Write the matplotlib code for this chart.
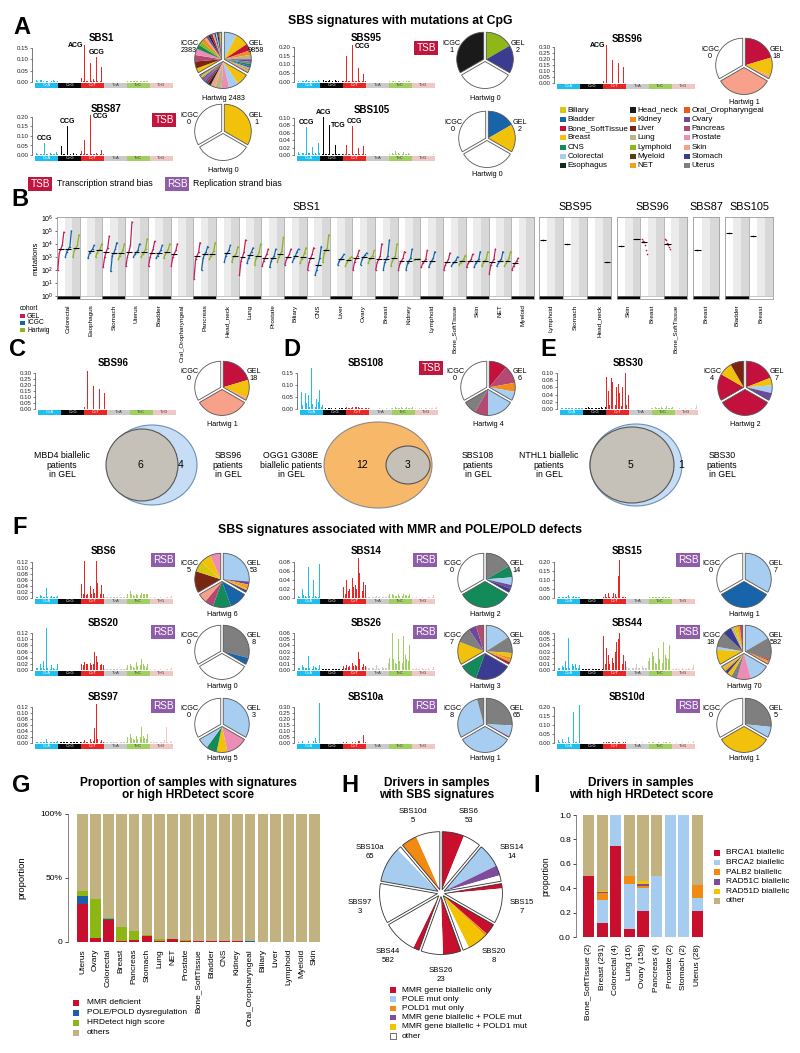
import numpy as np
import matplotlib
matplotlib.use('Agg')
import matplotlib.pyplot as plt
from matplotlib.patches import Rectangle, Ellipse, Wedge

plt.rcParams['font.family'] = ['Liberation Sans', 'DejaVu Sans']
plt.rcParams['mathtext.fontset'] = 'custom'
plt.rcParams['mathtext.rm'] = 'Liberation Sans'
plt.rcParams['mathtext.it'] = 'Liberation Sans:italic'
plt.rcParams['mathtext.bf'] = 'Liberation Sans:bold'
plt.rcParams['axes.linewidth'] = 0.5

# ---------------------------------------------------------------- data
MUT_TYPES = ['C>A', 'C>G', 'C>T', 'T>A', 'T>C', 'T>G']
MUT_COLORS = ['#1EBFF0', '#050708', '#E62725', '#CBCACB', '#A1CF64', '#EDC8C5']

TISSUE_COLORS = {
    'Biliary': '#D6C80E', 'Bladder': '#1764AB', 'Bone_SoftTissue': '#C4103D',
    'Breast': '#F2C10B', 'CNS': '#138A5A', 'Colorectal': '#A7CDF1',
    'Esophagus': '#0E2E1B', 'Head_neck': '#1A1A1A', 'Kidney': '#F28C1C',
    'Liver': '#7A2511', 'Lung': '#C1B388', 'Lymphoid': '#8DB817',
    'Myeloid': '#5C3D14', 'NET': '#F6A01A', 'Oral_Oropharyngeal': '#E85B1C',
    'Ovary': '#6B4A9E', 'Pancreas': '#B44A73', 'Prostate': '#EC8DB6',
    'Skin': '#F7A08A', 'Stomach': '#3B3B91', 'Uterus': '#7F7F7F'}
LEGEND_COLS = [['Biliary', 'Bladder', 'Bone_SoftTissue', 'Breast', 'CNS', 'Colorectal', 'Esophagus'],
               ['Head_neck', 'Kidney', 'Liver', 'Lung', 'Lymphoid', 'Myeloid', 'NET'],
               ['Oral_Oropharyngeal', 'Ovary', 'Pancreas', 'Prostate', 'Skin', 'Stomach', 'Uterus']]

# signature profiles, x1000, rows = C>A, C>G, C>T, T>A, T>C, T>G (16 contexts each)
SIGS = {
 'SBS1': [[9,6,3,7,8,5,2,6,6,4,2,5,7,5,2,6],[2,1,1,2,2,1,1,1,1,1,1,1,2,1,1,1],
          [18,3,165,4,6,3,86,3,15,4,111,3,5,3,65,2],[2,1,1,2,1,1,1,1,1,1,1,1,1,1,1,2],
          [5,3,6,4,4,3,6,5,3,3,4,4,4,3,5,4],[1,1,1,1,1,1,1,1,1,1,1,1,1,1,1,2]],
 'SBS95': [[4,2,6,3,5,3,12,4,3,2,8,3,4,3,10,3],[3,2,12,3,4,3,14,4,3,2,10,3,3,2,12,3],
           [5,3,150,3,5,3,210,4,6,3,80,3,5,3,45,3],[2,1,2,1,2,1,1,1,1,1,1,1,2,1,1,1],
           [3,3,5,3,3,2,4,3,2,2,3,2,3,3,4,3],[1,1,1,1,1,1,2,1,1,1,1,1,1,1,1,2]],
 'SBS96': [[1,1,1,1,1,1,1,1,1,1,1,1,1,1,1,1],[1,1,1,1,1,1,1,1,1,1,1,1,1,1,1,1],
           [20,3,320,3,2,2,190,2,3,2,170,2,3,2,130,2],[1,1,1,1,1,1,1,1,1,1,1,1,1,1,1,1],
           [1,1,2,1,1,1,2,1,1,1,2,1,1,1,2,1],[1,1,1,1,1,1,1,1,1,1,1,1,1,1,1,1]],
 'SBS87': [[8,3,10,4,6,3,65,5,4,3,12,3,5,3,15,4],[3,2,45,3,3,2,155,3,3,2,10,2,3,2,22,3],
           [20,3,80,3,5,3,210,4,5,3,8,3,4,3,25,3],[2,1,1,1,1,1,1,1,1,1,1,1,1,1,1,1],
           [1,1,1,1,1,1,1,1,1,1,1,1,1,1,1,1],[1,1,1,1,1,1,1,1,1,1,1,1,1,1,1,1]],
 'SBS105': [[8,4,35,5,6,4,77,5,5,3,22,4,6,4,32,5],[4,3,103,4,4,3,80,4,3,2,27,3,4,3,68,4],
            [4,3,28,3,4,3,78,3,3,2,18,3,3,2,25,3],[1,1,1,1,1,1,1,1,1,1,1,1,1,1,1,1],
            [3,4,6,3,10,4,5,3,2,3,8,4,3,5,4,3],[1,1,1,1,1,1,1,1,1,1,1,1,1,1,1,2]],
 'SBS108': [[70,15,10,65,25,60,10,170,20,70,10,40,30,80,10,15],[5,3,2,5,4,3,2,4,3,2,2,3,4,3,2,3],
            [8,5,6,4,10,6,8,7,9,5,6,4,7,5,6,5],[3,2,2,3,2,2,2,3,2,2,2,2,3,2,2,3],
            [6,5,8,5,5,4,7,5,4,4,9,5,6,5,8,5],[3,2,2,4,3,2,2,5,3,2,3,4,3,3,4,10]],
 'SBS30': [[4,3,2,4,3,3,2,3,3,2,2,3,4,3,2,4],[4,3,2,5,3,3,2,4,3,3,2,4,5,3,2,6],
           [90,50,12,85,75,40,10,60,70,45,8,60,100,100,10,40],[2,1,1,1,1,1,1,1,1,1,1,1,1,1,1,2],
           [4,3,5,4,3,3,6,3,3,3,8,4,4,3,5,3],[1,1,1,2,1,1,1,2,1,1,1,2,1,1,2,10]],
 'SBS6': [[4,3,2,10,6,3,2,33,3,2,2,8,5,3,2,8],[1,1,1,1,1,1,1,1,1,1,1,1,1,1,1,1],
          [47,12,125,10,15,8,40,12,30,18,125,50,25,12,45,15],[3,2,2,6,2,2,2,3,2,2,2,3,3,2,2,4],
          [15,12,22,14,10,8,15,10,12,10,18,12,14,12,15,30],[2,1,1,3,1,1,1,2,1,1,1,2,2,1,2,8]],
 'SBS14': [[5,3,2,20,6,4,3,70,5,3,2,40,5,3,2,76],[1,1,1,1,1,1,1,1,1,1,1,1,1,1,1,1],
           [25,10,40,15,20,10,45,25,30,20,90,55,25,15,35,28],[3,2,2,5,2,2,2,4,2,2,2,3,3,2,2,5],
           [8,5,10,6,5,4,8,5,5,4,10,6,6,5,8,12],[2,1,1,3,1,1,1,2,1,1,1,2,2,1,2,6]],
 'SBS15': [[5,3,4,8,6,4,6,15,5,3,5,10,5,3,4,8],[1,1,1,1,1,1,1,1,1,1,1,1,1,1,1,1],
           [8,20,5,30,6,4,5,30,20,6,120,210,50,5,8,5],[2,1,1,2,1,1,1,2,1,1,1,1,1,1,1,2],
           [5,4,6,4,4,3,6,4,4,3,5,4,5,4,5,6],[1,1,1,1,1,1,1,1,1,1,1,1,1,1,1,1]],
 'SBS20': [[8,6,3,20,8,28,3,135,5,4,2,15,6,4,3,18],[1,1,1,1,1,1,1,1,1,1,1,1,1,1,1,1],
           [20,15,25,18,20,12,22,15,20,57,45,25,18,15,20,15],[3,2,2,10,2,2,2,4,2,2,2,3,3,2,2,5],
           [15,10,20,12,10,8,25,12,10,15,37,20,12,10,18,12],[2,1,1,3,1,1,1,2,1,1,1,2,2,1,2,6]],
 'SBS26': [[4,3,2,8,5,4,3,22,4,3,2,6,5,3,2,8],[2,1,1,2,1,1,1,2,1,1,1,2,1,1,1,2],
           [6,4,8,5,6,4,12,6,8,6,30,18,7,5,10,6],[5,3,3,17,3,3,2,8,3,2,2,5,4,3,3,12],
           [20,15,60,18,12,10,50,15,15,12,55,25,18,15,40,30],[2,1,1,3,1,1,1,3,1,1,1,3,2,1,2,5]],
 'SBS44': [[4,3,3,6,5,15,4,52,4,3,10,6,10,3,3,8],[1,1,1,2,1,1,1,2,1,1,1,1,2,1,1,2],
           [55,10,35,25,10,8,20,12,30,45,50,60,12,10,25,15],[5,3,3,25,3,3,3,10,3,3,3,6,4,3,3,15],
           [20,15,30,22,12,10,35,18,15,12,45,25,20,18,40,30],[2,1,1,4,1,1,2,4,1,1,2,4,2,1,3,8]],
 'SBS97': [[4,3,2,5,3,2,2,13,3,2,2,5,3,2,2,6],[3,2,2,4,2,2,2,3,2,2,2,3,3,2,2,4],
           [5,3,10,4,5,3,12,5,6,50,130,15,5,3,10,5],[3,2,2,5,2,2,2,4,2,2,2,3,3,2,2,4],
           [20,15,30,18,12,10,25,15,85,20,55,25,18,15,30,20],[3,2,2,5,2,2,3,5,3,2,10,55,3,2,4,8]],
 'SBS10a': [[5,3,2,15,4,3,2,20,3,2,2,15,45,5,3,330],[1,1,1,1,1,1,1,1,1,1,1,1,1,1,1,1],
            [5,3,8,4,4,3,8,4,5,4,20,15,5,4,65,5],[2,1,1,4,1,1,1,3,1,1,1,2,2,1,1,4],
            [2,1,2,2,1,1,2,1,1,1,2,2,2,1,2,3],[1,1,1,2,1,1,1,2,1,1,1,2,1,1,1,3]],
 'SBS10d': [[15,5,3,20,5,3,2,35,4,3,2,170,5,3,2,210],[1,1,1,1,1,1,1,1,1,1,1,1,1,1,1,1],
            [3,2,3,3,3,2,4,3,3,2,6,4,3,2,5,3],[2,1,1,4,1,1,1,3,1,1,1,3,2,1,1,8],
            [3,2,3,3,2,2,3,2,2,2,3,3,3,2,3,4],[2,1,1,3,1,1,1,3,1,1,1,3,2,1,2,12]],
}

# pies: cohort -> list of (tissue, number of samples)
PIES = {
 'SBS1': {'ICGC': [('Breast',200),('Liver',300),('Pancreas',280),('Prostate',270),('CNS',190),('Lymphoid',180),
                   ('Kidney',170),('Skin',100),('Ovary',105),('Esophagus',95),('Bone_SoftTissue',90),('Lung',80),
                   ('Stomach',65),('Colorectal',55),('Head_neck',55),('Myeloid',40),('Uterus',40),('Biliary',30),
                   ('Bladder',23),('NET',15)],
          'GEL': [('Colorectal',2200),('Breast',2400),('Bone_SoftTissue',1200),('Kidney',800),('Lung',800),
                  ('Ovary',450),('Uterus',400),('CNS',380),('Bladder',300),('Prostate',250),('Lymphoid',250),
                  ('Skin',180),('Oral_Oropharyngeal',80),('NET',60),('Pancreas',40),('Stomach',30),('Biliary',20),
                  ('Myeloid',18)],
          'Hartwig': [('Breast',540),('Colorectal',430),('Prostate',330),('Lung',290),('Skin',220),('Esophagus',130),
                      ('Bone_SoftTissue',100),('Bladder',90),('Pancreas',85),('Ovary',85),('Uterus',45),('Biliary',40),
                      ('NET',30),('CNS',25),('Kidney',20),('Stomach',10),('Head_neck',8),('Liver',5)]},
 'SBS95': {'ICGC': [('Head_neck',1)], 'GEL': [('Lymphoid',1),('Stomach',1)], 'Hartwig': []},
 'SBS96': {'ICGC': [], 'GEL': [('Bone_SoftTissue',11),('Breast',6),('Skin',1)], 'Hartwig': [('Skin',1)]},
 'SBS87': {'ICGC': [], 'GEL': [('Breast',1)], 'Hartwig': []},
 'SBS105': {'ICGC': [], 'GEL': [('Bladder',1),('Breast',1)], 'Hartwig': []},
 'SBS108': {'ICGC': [], 'GEL': [('Bone_SoftTissue',2),('Pancreas',2),('Kidney',1),('Colorectal',1)],
            'Hartwig': [('Colorectal',2),('Pancreas',1),('Uterus',1)]},
 'SBS30': {'ICGC': [('Bone_SoftTissue',2),('Breast',1),('Liver',1)],
           'GEL': [('Bone_SoftTissue',4),('Breast',1),('Colorectal',1),('Ovary',1)],
           'Hartwig': [('Bone_SoftTissue',2)]},
 'SBS6': {'ICGC': [('Liver',2),('Biliary',1),('Breast',1),('Prostate',1)],
          'GEL': [('Colorectal',42),('Ovary',3),('NET',2),('Kidney',2),('Breast',2),('Stomach',2)],
          'Hartwig': [('Bladder',2),('CNS',2),('Pancreas',1),('Skin',1)]},
 'SBS14': {'ICGC': [], 'GEL': [('Uterus',7),('CNS',3),('Colorectal',2),('Ovary',1),('Stomach',1)],
           'Hartwig': [('CNS',2)]},
 'SBS15': {'ICGC': [], 'GEL': [('Colorectal',7)], 'Hartwig': [('Bladder',1)]},
 'SBS20': {'ICGC': [], 'GEL': [('Uterus',7),('Bladder',1)], 'Hartwig': []},
 'SBS26': {'ICGC': [('Breast',3),('Uterus',2),('Ovary',1),('Pancreas',1)],
           'GEL': [('Colorectal',11),('Uterus',7),('Breast',2),('Kidney',1),('NET',1),('Bone_SoftTissue',1)],
           'Hartwig': [('Stomach',2),('CNS',1)]},
 'SBS44': {'ICGC': [('Breast',5),('Colorectal',1),('Uterus',5),('Stomach',3),('Lung',1),('Biliary',1),('NET',1),('Pancreas',1)],
           'GEL': [('Colorectal',290),('Uterus',240),('Bone_SoftTissue',12),('Kidney',10),('Oral_Oropharyngeal',8),
                   ('Breast',12),('Stomach',5),('NET',5)],
           'Hartwig': [('Colorectal',26),('Prostate',18),('Uterus',8),('Breast',6),('Stomach',4),('NET',3),
                       ('Biliary',2),('Kidney',1),('Lung',2)]},
 'SBS97': {'ICGC': [], 'GEL': [('Colorectal',3)], 'Hartwig': [('Prostate',2),('Breast',1),('CNS',1),('Colorectal',1)]},
 'SBS10a': {'ICGC': [('Colorectal',7),('Uterus',1)], 'GEL': [('Uterus',50),('Colorectal',14),('Bone_SoftTissue',1)],
            'Hartwig': [('Colorectal',1)]},
 'SBS10d': {'ICGC': [], 'GEL': [('Uterus',4),('Colorectal',1)], 'Hartwig': [('Breast',1)]},
}

# panel B: per tissue, five read-off points (log10 mutations) of the sorted sample curve
B1_TISSUES = ['Colorectal','Esophagus','Stomach','Uterus','Bladder','Oral_Oropharyngeal','Pancreas','Head_neck',
              'Lung','Prostate','Biliary','CNS','Liver','Ovary','Breast','Kidney','Lymphoid','Bone_SoftTissue',
              'Skin','NET','Myeloid']
B1_GEL = [[2.0,3.3,3.6,3.9,4.9],None,[2.2,3.0,3.4,3.7,4.6],[2.3,3.0,3.4,3.9,5.7],[2.3,3.0,3.3,3.6,4.2],
          [2.3,3.0,3.25,3.5,4.0],[1.3,2.8,3.1,3.35,4.1],None,[1.6,2.7,3.0,3.4,4.3],[2.3,2.7,2.95,3.2,3.6],
          [2.4,2.8,3.0,3.2,3.6],[2.0,2.6,2.9,3.2,3.7],None,[2.0,2.6,2.9,3.1,3.5],[2.0,2.6,2.8,3.1,4.0],
          [2.0,2.5,2.7,2.9,3.4],[2.2,2.5,2.65,2.8,3.5],[2.0,2.4,2.6,2.8,3.3],[2.2,2.5,2.65,2.8,3.2],
          [1.7,2.4,2.6,2.8,3.6],[2.0,2.3,2.5,2.65,2.9]]
B1_ICGC = [[3.0,3.4,3.6,3.8,5.0],[2.9,3.3,3.45,3.6,3.9],[1.9,3.1,3.3,3.6,4.1],[3.0,3.2,3.35,3.5,4.0],
           [2.9,3.1,3.3,3.5,3.9],None,[2.0,2.9,3.2,3.4,3.8],[2.6,3.1,3.3,3.5,3.9],[2.5,2.9,3.15,3.4,3.7],
           [2.2,2.7,2.9,3.1,3.6],[2.6,2.9,3.1,3.4,3.6],[1.6,2.0,2.4,2.9,3.8],[2.4,2.7,2.85,3.0,3.2],
           [2.4,2.8,3.0,3.15,3.3],[2.0,2.6,2.8,3.1,4.3],[2.0,2.5,2.7,2.9,3.6],[2.2,2.5,2.7,2.9,3.4],
           [2.3,2.5,2.6,2.75,3.0],[2.2,2.5,2.65,2.8,3.4],[2.3,2.5,2.7,2.85,3.4],None]
B1_HARTWIG = [[3.0,3.5,3.7,3.9,4.7],[3.0,3.3,3.5,3.6,4.0],[2.8,3.1,3.3,3.5,4.0],[3.0,3.2,3.4,3.6,4.4],
              [2.9,3.2,3.4,3.6,4.0],None,[2.8,3.05,3.25,3.45,4.1],[2.6,3.0,3.1,3.3,3.8],[2.4,2.9,3.1,3.35,4.0],
              [2.6,3.0,3.2,3.45,4.5],[2.5,2.8,3.0,3.3,3.7],[2.6,3.3,3.5,3.7,4.7],[2.3,2.6,2.75,2.9,3.0],
              [2.5,2.8,2.95,3.1,3.5],[2.3,2.7,2.9,3.1,4.0],[2.75,2.8,2.8,2.8,2.85],None,[2.4,2.55,2.7,2.8,3.1],
              [2.3,2.55,2.7,2.85,3.4],[2.3,2.5,2.7,2.9,3.4],None]
# other signatures: tissue list, and (tissue index, cohort index, log10 values)
B95_TISSUES = ['Lymphoid','Stomach','Head_neck']
B95_POINTS = [(0,0,[4.34]),(1,0,[3.97]),(2,2,[2.64])]
B96_TISSUES = ['Skin','Breast','Bone_SoftTissue']
B96_POINTS = [(0,0,[3.83]),(0,2,[4.4]),(1,0,[4.35,4.25,4.2,4.15,3.9,3.5,3.2]),(2,0,[4.4,4.3,4.1,4.0,3.95,3.8,3.6])]
B87_TISSUES = ['Breast']
B87_POINTS = [(0,0,[3.56])]
B105_TISSUES = ['Bladder','Breast']
B105_POINTS = [(0,0,[4.85]),(1,0,[4.64])]
COHORTS = ['GEL','ICGC','Hartwig']
COHORT_COLORS = ['#C41F5C','#1565A9','#8CB51B']

# panel G
G_TISSUES = ['Uterus','Ovary','Colorectal','Breast','Pancreas','Stomach','Lung','NET','Prostate','Bone_SoftTissue',
             'Bladder','CNS','Kidney','Oral_Oropharyngeal','Biliary','Liver','Lymphoid','Myeloid','Skin']
G_MMR = [0.295,0.03,0.17,0.008,0.018,0.05,0.008,0.021,0.008,0.007,0.007,0.006,0.006,0,0,0,0,0,0]
G_POLE = [0.068,0,0.01,0,0,0,0,0,0,0,0,0,0,0.008,0,0,0,0,0]
G_HRD = [0.037,0.307,0.005,0.11,0.066,0.008,0.016,0.003,0.01,0.002,0,0,0,0,0,0,0,0,0]
G_LABELS = ['MMR deficient','POLE/POLD dysregulation','HRDetect high score','others']
G_COLORS = ['#C8102E','#1A5FA8','#8DB612','#C2B280']

# panel H: fraction of each signature's samples per driver class
H_SIGS = ['SBS6','SBS14','SBS15','SBS20','SBS26','SBS44','SBS97','SBS10a','SBS10d']
H_N = [53,14,7,8,23,582,3,65,5]
H_CLASSES = ['MMR gene biallelic only','POLE mut only','POLD1 mut only','MMR gene biallelic + POLE mut',
             'MMR gene biallelic + POLD1 mut','other']
H_COLORS = ['#C8102E','#A6CDF0','#F08A13','#7E4C9B','#F3C300','white']
H_FRAC = [[0.55,0,0,0,0,0.45],[0,0.6,0,0.25,0,0.15],[0.12,0,0,0,0,0.88],[0.28,0,0.06,0,0.5,0.16],
          [0.45,0,0,0,0,0.55],[0.15,0,0,0,0,0.85],[0,0,0,0,0,1],[0,0.9,0,0,0,0.1],[0,0,0.4,0,0,0.6]]

# panel I: samples with high HRDetect score, counts per driver
I_TISSUES = ['Bone_SoftTissue','Breast','Colorectal','Lung','Ovary','Pancreas','Prostate','Stomach','Uterus']
I_N = [2,291,4,16,158,4,2,2,28]
I_COUNTS = {'BRCA1 biallelic': [1,34,3,1,34,0,0,0,6],
            'BRCA2 biallelic': [0,55,1,6,29,2,2,2,3],
            'PALB2 biallelic': [0,16,0,1,3,0,0,0,3],
            'RAD51C biallelic': [0,2,0,0,3,0,0,0,0],
            'RAD51D biallelic': [0,2,0,0,3,0,0,0,0]}
I_COLORS = ['#C8102E','#A6CDF0','#F08A13','#7E4C9B','#F3C300','#C2B280']

# ---------------------------------------------------------------- helpers
W, H = 800, 1053
fig = plt.figure(figsize=(W/100, H/100), dpi=100)
fig.patch.set_facecolor('white')
ov = fig.add_axes([0, 0, 1, 1], zorder=5)
ov.set_xlim(0, W); ov.set_ylim(H, 0); ov.axis('off'); ov.patch.set_alpha(0)


def pax(x, y, w, h, **kw):
    ax = fig.add_axes([x/W, 1-(y+h)/H, w/W, h/H], **kw)
    ax.patch.set_alpha(0)
    return ax


def T(x, y, s, size=6, **kw):
    kw.setdefault('ha', 'center'); kw.setdefault('va', 'center')
    return ov.text(x, y, s, fontsize=size, **kw)


def tag(x, y, s):
    col = '#C0163D' if s == 'TSB' else '#8E5CA8'
    T(x, y, s, 7.2, color='white', bbox=dict(boxstyle='square,pad=0.18', fc=col, ec='none'))


def ctx(i):
    t, k = divmod(i, 16)
    return 'ACGT'[k // 4] + ('C' if t < 3 else 'T') + 'ACGT'[k % 4]


def draw_sig(name, x0, ytop, ybase, top, step, title_xy, tg=None, tag_xy=None, labeled=(), w=138):
    ax = pax(x0, ytop, w, ybase - ytop)
    v = np.array(SIGS[name]).ravel() / 1000.0
    cols = np.repeat(MUT_COLORS, 16)
    ax.bar(np.arange(96), v, width=0.55, color=cols, clip_on=False, linewidth=0)
    ax.set_xlim(-0.8, 95.8); ax.set_ylim(0, top)
    for s in ['top', 'right', 'bottom']:
        ax.spines[s].set_visible(False)
    ax.spines['left'].set_bounds(0, top)
    ax.spines['left'].set_position(('outward', 2))
    ax.spines['left'].set_linewidth(0.5); ax.spines['left'].set_color('#444')
    ticks = np.arange(0, top + 1e-9, step)
    ax.set_yticks(ticks)
    ax.set_yticklabels([f'{t:.2f}' for t in ticks], fontsize=4.4)
    ax.tick_params(axis='y', length=1.5, width=0.4, pad=1, colors='#222')
    ax.set_xticks([])
    for i, mode, dx in labeled:
        if mode == 'C':
            ax.text(i + dx, v[i] + top*0.02, ctx(i), fontsize=5.0, fontweight='bold', ha='center', va='bottom',
                    clip_on=False)
        elif mode == 'L':
            ax.text(i - 1.3, v[i] - top*0.02, ctx(i), fontsize=5.0, fontweight='bold', ha='right', va='center',
                    clip_on=False)
        else:
            ax.text(i + 1.3, v[i] - top*0.05, ctx(i), fontsize=5.0, fontweight='bold', ha='left', va='center',
                    clip_on=False)
    sa = pax(x0, ybase + 0.5, w, 5.5)
    for k in range(6):
        sa.add_patch(Rectangle((k*16 - 0.5, 0), 16, 1, color=MUT_COLORS[k], lw=0))
        sa.text(k*16 + 7.5, 0.5, MUT_TYPES[k], fontsize=3.0, ha='center', va='center',
                color='white' if k < 3 else '#333')
    sa.set_xlim(-0.8, 95.8); sa.set_ylim(0, 1); sa.axis('off')
    T(title_xy[0], title_xy[1], name, 7, fontweight='bold')
    if tg:
        tag(tag_xy[0], tag_xy[1], tg)


def tri_pie(name, cx, cy, r, hw_dy=36):
    groups = PIES[name]
    s = r * 1.25
    ax = pax(cx - s, cy - s, 2*s, 2*s)
    for cohort, start in (('GEL', 90), ('Hartwig', -30), ('ICGC', 210)):
        items = groups[cohort]
        tot = sum(c for _, c in items)
        mid = np.deg2rad(start - 60)
        ctr = (0.055*np.cos(mid), 0.055*np.sin(mid))
        if tot == 0:
            ax.pie([1/3], colors=['white'], startangle=start, counterclock=False, normalize=False,
                   center=ctr, wedgeprops=dict(linewidth=0))
        else:
            ax.pie([c/tot/3 for _, c in items], colors=[TISSUE_COLORS[t] for t, _ in items],
                   startangle=start, counterclock=False, normalize=False, center=ctr,
                   wedgeprops=dict(linewidth=0))
        ax.add_patch(Wedge(ctr, 1, start - 120, start, facecolor='none', edgecolor='#555', lw=0.6))
    ax.set_xlim(-1.25, 1.25); ax.set_ylim(-1.25, 1.25); ax.set_aspect('equal'); ax.axis('off')
    n = {c: sum(k for _, k in groups[c]) for c in COHORTS}
    T(cx - r - 7, cy - 13, f"ICGC\n{n['ICGC']}", 5.2, linespacing=1.05)
    T(cx + r + 6, cy - 13, f"GEL\n{n['GEL']}", 5.2, linespacing=1.05)
    T(cx, cy + hw_dy, f"Hartwig {n['Hartwig']}", 5.2)


# ---------------------------------------------------------------- panel A
T(22, 27, 'A', 17, fontweight='bold')
T(400, 21, 'SBS signatures with mutations at CpG', 8.8, fontweight='bold')
draw_sig('SBS1', 35, 48, 82, 0.15, 0.05, (101, 38), labeled=[(34, 'L', 0), (42, 'C', 0)])
draw_sig('SBS95', 297, 47, 82, 0.20, 0.05, (366, 38), 'TSB', (426, 48), labeled=[(38, 'R', 0)])
draw_sig('SBS96', 557, 47, 83, 0.30, 0.05, (627, 39), labeled=[(34, 'L', 0)])
draw_sig('SBS87', 35, 117, 155, 0.20, 0.05, (106, 109), 'TSB', (164, 120),
         labeled=[(6, 'C', 0), (22, 'C', 0), (38, 'R', 0)])
draw_sig('SBS105', 297, 118, 155, 0.10, 0.02, (372, 110),
         labeled=[(6, 'C', 0), (18, 'C', 0), (30, 'C', -1.6), (38, 'C', 1.6)])
tri_pie('SBS1', 223, 60, 27, 38)
tri_pie('SBS95', 485, 60, 27, 38)
tri_pie('SBS96', 744, 66, 27, 36)
tri_pie('SBS87', 223, 132, 27, 38)
tri_pie('SBS105', 487, 139, 27, 36)
for ci, col in enumerate(LEGEND_COLS):
    x = [563, 633, 687][ci]
    for ri, t in enumerate(col):
        y = 110 + ri * 9.3
        ov.add_patch(Rectangle((x - 2.6, y - 2.6), 5.2, 5.2, fc=TISSUE_COLORS[t], ec='none'))
        T(x + 4.5, y, t, 5.8, ha='left')
tag(40, 184, 'TSB'); T(57, 184, 'Transcription strand bias', 6.3, ha='left')
tag(177, 184, 'RSB'); T(193, 184, 'Replication strand bias', 6.3, ha='left')

# ---------------------------------------------------------------- panel B
T(20, 200, 'B', 17, fontweight='bold')
YLO, YHI = 10**-0.25, 10**6.08


def b_group(name, tissues, x0, x1, first=False, quant=None, points=None):
    n = len(tissues)
    ax = pax(x0, 217, x1 - x0, 82)
    ax.set_yscale('log'); ax.set_ylim(YLO, YHI); ax.set_xlim(0, 3*n)
    for i in range(n):
        for j, c in enumerate(['white', '#EBEBEB', '#D8D8D8']):
            ax.add_patch(Rectangle((3*i + j, YLO), 1, YHI - YLO, color=c, lw=0, zorder=0))
        ax.add_patch(Rectangle((3*i, YLO), 3, 1 - YLO, color='black' if i % 2 == 0 else 'white', lw=0, zorder=1))
        if i > 0:
            ax.axvline(3*i, color='#9a9a9a', lw=0.5, zorder=1.5)
    ax.axhline(1, color='#9a9a9a', lw=0.4, zorder=1.5)
    for s in ax.spines.values():
        s.set_color('#9a9a9a'); s.set_linewidth(0.6)
    if quant is not None:
        for j, q in enumerate(quant):
            for i, vals in enumerate(q):
                if vals is None:
                    continue
                xs = 3*i + j + np.array([0.1, 0.3, 0.5, 0.7, 0.9])
                ax.plot(xs, 10**np.array(vals), color=COHORT_COLORS[j], lw=0.9, marker='o', ms=1.1,
                        mew=0, zorder=3)
                ax.hlines(10**vals[2], 3*i + j + 0.12, 3*i + j + 0.88, color='black', lw=0.8, zorder=4)
    if points is not None:
        for i, j, vals in points:
            vals = np.array(vals)
            xs = 3*i + j + np.linspace(0.2, 0.8, len(vals)) if len(vals) > 1 else np.array([3*i + j + 0.5])
            ax.plot(xs, 10**vals, 'o', color=COHORT_COLORS[j], ms=1.2, mew=0, zorder=3)
            ax.hlines(10**np.median(vals), 3*i + j + 0.1, 3*i + j + 0.9, color='black', lw=0.8, zorder=4)
    ax.set_xticks([3*i + 1.5 for i in range(n)])
    ax.set_xticklabels(tissues, rotation=90, fontsize=4.6)
    ax.tick_params(axis='x', length=0, pad=4)
    if first:
        ax.set_yticks([10**k for k in range(7)])
        ax.set_yticklabels([f'$10^{{{k}}}$' for k in range(7)], fontsize=5)
        ax.tick_params(axis='y', length=1.5, width=0.4, pad=1)
        ax.yaxis.set_minor_locator(matplotlib.ticker.NullLocator())
        ax.set_ylabel('mutations', fontsize=5.5, labelpad=1)
    else:
        ax.set_yticks([]); ax.yaxis.set_minor_locator(matplotlib.ticker.NullLocator())
    T((x0 + x1) / 2 + (11 if first else 0), 207, name, 7.8)


b_group('SBS1', B1_TISSUES, 57, 534, first=True, quant=[B1_GEL, B1_ICGC, B1_HARTWIG])
b_group('SBS95', B95_TISSUES, 539, 611, points=B95_POINTS)
b_group('SBS96', B96_TISSUES, 617, 687, points=B96_POINTS)
b_group('SBS87', B87_TISSUES, 693, 719, points=B87_POINTS)
b_group('SBS105', B105_TISSUES, 725, 773, points=B105_POINTS)
T(20, 308, 'cohort', 4.8, ha='left')
for k, c in enumerate(COHORTS):
    y = 316 + k*7
    ov.add_patch(Rectangle((20, y - 2.3), 4.6, 4.6, fc=COHORT_COLORS[k], ec='none'))
    T(27, y, c, 4.8, ha='left')

# ---------------------------------------------------------------- panels C, D, E
T(18, 350, 'C', 17, fontweight='bold')
T(292, 350, 'D', 17, fontweight='bold')
T(548, 350, 'E', 17, fontweight='bold')
draw_sig('SBS96', 38, 373, 409, 0.30, 0.05, (113, 363))
draw_sig('SBS108', 300, 373, 409, 0.15, 0.05, (366, 363), 'TSB', (431, 368))
draw_sig('SBS30', 560, 373, 409, 0.10, 0.02, (628, 363))
tri_pie('SBS96', 222, 388, 26, 36)
tri_pie('SBS108', 488, 388, 26, 36)
tri_pie('SBS30', 745, 388, 26, 36)

# (outer centre x, rx, ry, inner centre x, rx, ry, outer colour, inner n, outer-only n, labels, label x, n x)
VENN = [
    (152, 45, 40, 142, 36, 36, '#C6DDF5', '#6E8FB5', 6, 4, 'MBD4 biallelic\npatients\nin GEL',
     'SBS96\npatients\nin GEL', 62, 228, 181),
    (378, 54, 43, 408, 22, 19, '#F8B869', '#8a8a8a', 3, 12, 'OGG1 G308E\nbiallelic patients\nin GEL',
     'SBS108\npatients\nin GEL', 291, 478, 362),
    (636, 46, 41, 632, 42, 38, '#C6DDF5', '#6E8FB5', 5, 1, 'NTHL1 biallelic\npatients\nin GEL',
     'SBS30\npatients\nin GEL', 549, 722, 681),
]
VY = 465
for ox, orx, ory, ix, irx, iry, ocol, ecol, n_in, n_out, ll, rl, lx, rx, nx in VENN:
    ov.add_patch(Ellipse((ox, VY), 2*orx, 2*ory, fc=ocol, ec=ecol, lw=0.8))
    ov.add_patch(Ellipse((ix, VY), 2*irx, 2*iry, fc='#C5C1B9', ec='#555', lw=0.8))
    T(ix - (0 if irx < 30 else 2), VY, str(n_in), 7.5)
    T(nx, VY, str(n_out), 7.5)
    T(lx, VY, ll, 6.3, linespacing=1.05)
    T(rx, VY, rl, 6.3, linespacing=1.05)

# ---------------------------------------------------------------- panel F
T(20, 528, 'F', 17, fontweight='bold')
T(400, 530, 'SBS signatures associated with MMR and POLE/POLD defects', 8.8, fontweight='bold')
F_LAYOUT = [('SBS6', 0, 0, 0.12, 0.02), ('SBS14', 1, 0, 0.08, 0.02), ('SBS15', 2, 0, 0.20, 0.05),
            ('SBS20', 0, 1, 0.12, 0.02), ('SBS26', 1, 1, 0.06, 0.01), ('SBS44', 2, 1, 0.06, 0.01),
            ('SBS97', 0, 2, 0.12, 0.02), ('SBS10a', 1, 2, 0.30, 0.05), ('SBS10d', 2, 2, 0.20, 0.05)]
COL_X = [35, 297, 557]
COL_TITLE = [103, 366, 627]
COL_TAG = [163, 425, 688]
COL_PIE = [222, 485, 744]
ROW_TOP = [562, 633, 707]
ROW_BASE = [598, 670, 743]
ROW_TITLE = [551, 623, 697]
ROW_PIE = [580, 652, 725]
for name, c, r, top, step in F_LAYOUT:
    draw_sig(name, COL_X[c], ROW_TOP[r], ROW_BASE[r], top, step, (COL_TITLE[c], ROW_TITLE[r]),
             'RSB', (COL_TAG[c], ROW_TITLE[r] + 9))
    tri_pie(name, COL_PIE[c], ROW_PIE[r], 26, 34)

# ---------------------------------------------------------------- panel G
T(21, 785, 'G', 17, fontweight='bold')
T(188, 789, 'Proportion of samples with signatures\nor high HRDetect score', 8.6, fontweight='bold',
  linespacing=1.05)
axg = pax(76, 814, 245, 128)
xg = np.arange(len(G_TISSUES))
others = 1 - np.array(G_MMR) - np.array(G_POLE) - np.array(G_HRD)
bottom = np.zeros(len(G_TISSUES))
for vals, col in zip([G_MMR, G_POLE, G_HRD, others], G_COLORS):
    axg.bar(xg, vals, bottom=bottom, width=0.84, color=col, lw=0)
    bottom += np.array(vals)
axg.set_xlim(-0.5, len(G_TISSUES) - 0.5); axg.set_ylim(0, 1)
for s in ['top', 'right', 'bottom']:
    axg.spines[s].set_visible(False)
axg.spines['left'].set_position(('outward', 6)); axg.spines['left'].set_color('#555')
axg.set_yticks([0, 0.5, 1]); axg.set_yticklabels(['0', '50%', '100%'], fontsize=6)
axg.tick_params(axis='y', length=2.5, width=0.5, pad=1.5)
axg.set_xticks(xg); axg.set_xticklabels(G_TISSUES, rotation=90, fontsize=6)
axg.tick_params(axis='x', length=0, pad=5)
axg.set_ylabel('proportion', fontsize=6.8, labelpad=10)
for k, (lab, col) in enumerate(zip(G_LABELS, G_COLORS)):
    y = 1003 + k*10
    ov.add_patch(Rectangle((73, y - 3), 6, 6, fc=col, ec='none'))
    T(87, y, lab, 6, ha='left')

# ---------------------------------------------------------------- panel H
T(350, 785, 'H', 17, fontweight='bold')
T(437, 789, 'Drivers in samples\nwith SBS signatures', 8.6, fontweight='bold', linespacing=1.05)
HCX, HCY, HR = 441, 893, 58
s = HR * 1.25
axh = pax(HCX - s, HCY - s, 2*s, 2*s)
for k, (sig, n, fr) in enumerate(zip(H_SIGS, H_N, H_FRAC)):
    start = 90 - 40*k
    mid = np.deg2rad(start - 20)
    ctr = (0.06*np.cos(mid), 0.06*np.sin(mid))
    keep = [(f, c) for f, c in zip(fr, H_COLORS) if f > 0]
    axh.pie([f/9 for f, _ in keep], colors=[c for _, c in keep], startangle=start, counterclock=False,
            normalize=False, center=ctr, wedgeprops=dict(linewidth=0))
    axh.add_patch(Wedge(ctr, 1, start - 40, start, facecolor='none', edgecolor='#333', lw=0.6))
    T(HCX + 82*np.cos(mid), HCY - 82*np.sin(mid), f'{sig}\n{n}', 5.6, linespacing=1.3)
axh.set_xlim(-1.25, 1.25); axh.set_ylim(-1.25, 1.25); axh.set_aspect('equal'); axh.axis('off')
for k, (lab, col) in enumerate(zip(H_CLASSES, H_COLORS)):
    y = 990 + k*9.2
    ov.add_patch(Rectangle((390, y - 2.8), 5.6, 5.6, fc=col, ec='#333' if col == 'white' else 'none', lw=0.5))
    T(402, y, lab, 6, ha='left')

# ---------------------------------------------------------------- panel I
T(537, 785, 'I', 17, fontweight='bold')
T(641, 789, 'Drivers in samples\nwith high HRDetect score', 8.6, fontweight='bold', linespacing=1.05)
axi = pax(582, 815, 122, 122)
xi = np.arange(len(I_TISSUES))
nI = np.array(I_N, float)
bottom = np.zeros(len(I_TISSUES))
i_labels = list(I_COUNTS.keys()) + ['other']
for lab, col in zip(I_COUNTS.keys(), I_COLORS):
    vals = np.array(I_COUNTS[lab]) / nI
    axi.bar(xi, vals, bottom=bottom, width=0.82, color=col, lw=0)
    bottom += vals
axi.bar(xi, 1 - bottom, bottom=bottom, width=0.82, color=I_COLORS[-1], lw=0)
axi.set_xlim(-0.5, len(I_TISSUES) - 0.5); axi.set_ylim(0, 1)
for s_ in ['top', 'right', 'bottom']:
    axi.spines[s_].set_visible(False)
axi.spines['left'].set_position(('outward', 4)); axi.spines['left'].set_color('#555')
axi.set_yticks(np.arange(0, 1.01, 0.2)); axi.set_yticklabels([f'{t:.1f}' for t in np.arange(0, 1.01, 0.2)], fontsize=6)
axi.tick_params(axis='y', length=2.5, width=0.5, pad=1.5)
axi.set_xticks(xi); axi.set_xticklabels([f'{t} ({n})' for t, n in zip(I_TISSUES, I_N)], rotation=90, fontsize=6)
axi.tick_params(axis='x', length=0, pad=5)
axi.set_ylabel('proportion', fontsize=6.3, labelpad=6)
for k, (lab, col) in enumerate(zip(i_labels, I_COLORS)):
    y = 853 + k*9.6
    ov.add_patch(Rectangle((714, y - 2.8), 5.6, 5.6, fc=col, ec='none'))
    T(726, y, lab, 6, ha='left')

fig.savefig('out.png', dpi=100, facecolor='white')
